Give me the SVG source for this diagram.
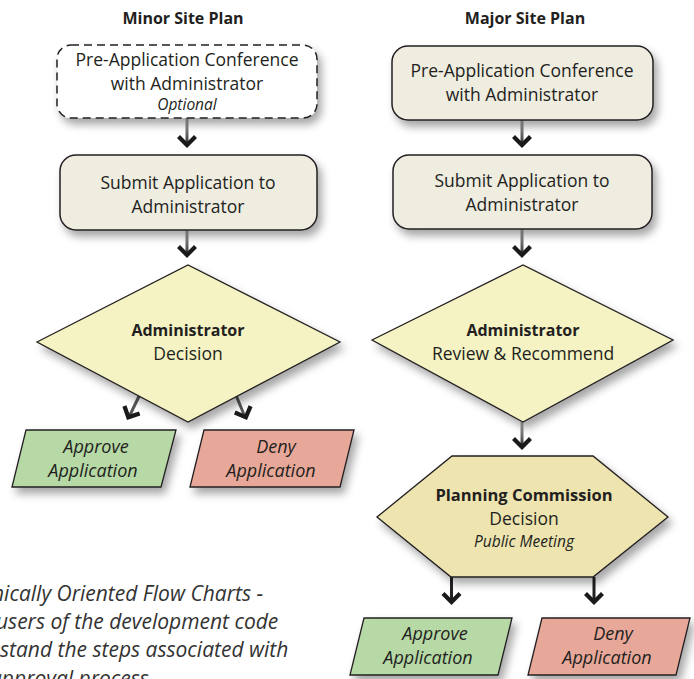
<svg xmlns="http://www.w3.org/2000/svg" width="694" height="679" viewBox="0 0 694 679">
<defs>
<filter id="sh" x="-20%" y="-20%" width="150%" height="160%">
<feDropShadow dx="4" dy="6" stdDeviation="4" flood-color="#000" flood-opacity="0.35"/>
</filter>
<linearGradient id="shaft" x1="0" y1="0" x2="0" y2="1">
<stop offset="0" stop-color="#b0b0b0"/>
<stop offset="1" stop-color="#2a2a2a"/>
</linearGradient>
<path id="ah" d="M0,0 L-10,-10 L-7,-13 L0,-6 L7,-13 L10,-10 Z" fill="#1a1a1a"/>
</defs>
<style>
text{font-family:"Open Sans","Liberation Sans",sans-serif;fill:#231f20;text-anchor:middle}
.t{font-size:17.5px}
.b{font-size:16px;font-weight:bold}
.bb{font-size:16.5px;font-weight:bold}
.h{font-size:16px;font-weight:bold}
.i{font-size:18px;font-style:italic}
.s{font-size:15.5px;font-style:italic}
.box{fill:#efece0;stroke:#231f20;stroke-width:1.5;filter:url(#sh)}
.dash{fill:#fff;stroke:#231f20;stroke-width:1.5;stroke-dasharray:8 5;filter:url(#sh)}
.dia{fill:#f5f3c3;stroke:#231f20;stroke-width:1.3;filter:url(#sh)}
.hex{fill:#ede4af;stroke:#231f20;stroke-width:1.3;filter:url(#sh)}
.ok{fill:#b6d9a6;stroke:#231f20;stroke-width:1.3;filter:url(#sh)}
.no{fill:#e8a899;stroke:#231f20;stroke-width:1.3;filter:url(#sh)}
.note{font-size:21px;font-style:italic;text-anchor:start;fill:#333}
</style>
<rect width="694" height="679" fill="#fff"/>

<g id="titles">
<text class="h" x="183" y="24">Minor Site Plan</text>
<text class="h" x="525" y="24">Major Site Plan</text>
</g>

<g id="connectors">
<rect x="185.5" y="118" width="3" height="28" fill="url(#shaft)"/>
<use href="#ah" transform="translate(187,148)"/>
<rect x="185.5" y="230" width="3" height="26" fill="url(#shaft)"/>
<use href="#ah" transform="translate(187,258)"/>
<path d="M143,388 L129,417" stroke="#555" stroke-width="3"/>
<use href="#ah" transform="translate(127,420) rotate(26)"/>
<path d="M233,388 L245,417" stroke="#555" stroke-width="3"/>
<use href="#ah" transform="translate(247,420) rotate(-22)"/>
<rect x="520.5" y="120" width="3" height="26" fill="url(#shaft)"/>
<use href="#ah" transform="translate(522,148)"/>
<rect x="520.5" y="229" width="3" height="27" fill="url(#shaft)"/>
<use href="#ah" transform="translate(522,258)"/>
<rect x="520.5" y="422" width="3" height="26" fill="url(#shaft)"/>
<use href="#ah" transform="translate(522,450)"/>
<rect x="450" y="577" width="3" height="26" fill="#222"/>
<use href="#ah" transform="translate(451.5,605)"/>
<rect x="592.5" y="577" width="3" height="26" fill="#222"/>
<use href="#ah" transform="translate(594,605)"/>
</g>

<g id="minor-preapp">
<rect class="dash" x="57" y="45" width="260" height="73" rx="14"/>
<text class="t" x="187" y="66">Pre-Application Conference</text>
<text class="t" x="187" y="90">with Administrator</text>
<text class="s" x="187" y="110">Optional</text>
</g>

<g id="minor-submit">
<rect class="box" x="60" y="155" width="257" height="75" rx="16"/>
<text class="t" x="188" y="189">Submit Application to</text>
<text class="t" x="188" y="213">Administrator</text>
</g>

<g id="minor-decision">
<polygon class="dia" points="37,342 188,265 340,342 188,422"/>
<text class="b" x="188" y="336">Administrator</text>
<text class="t" x="188" y="360">Decision</text>
</g>

<g id="minor-approve">
<polygon class="ok" points="26,430 176,430 161,487 12,487"/>
<text class="i" x="96" y="453">Approve</text>
<text class="i" x="93" y="477">Application</text>
</g>

<g id="minor-deny">
<polygon class="no" points="204,430 354,430 340,487 190,487"/>
<text class="i" x="276" y="453">Deny</text>
<text class="i" x="271" y="477">Application</text>
</g>

<g id="major-preapp">
<rect class="box" x="392" y="46" width="261" height="74" rx="16"/>
<text class="t" x="522" y="77">Pre-Application Conference</text>
<text class="t" x="522" y="101">with Administrator</text>
</g>

<g id="major-submit">
<rect class="box" x="393" y="155" width="259" height="74" rx="16"/>
<text class="t" x="522" y="187">Submit Application to</text>
<text class="t" x="522" y="211">Administrator</text>
</g>

<g id="major-review">
<polygon class="dia" points="372,340 523,265 673,340 523,422"/>
<text class="b" x="523" y="336">Administrator</text>
<text class="t" x="523" y="360">Review &amp; Recommend</text>
</g>

<g id="major-commission">
<polygon class="hex" points="452,456 593,456 668,517 593,577 451,577 377,517"/>
<text class="bb" x="524" y="501">Planning Commission</text>
<text class="t" x="524" y="525">Decision</text>
<text class="s" x="524" y="547">Public Meeting</text>
</g>

<g id="major-approve">
<polygon class="ok" points="364,618 512,618 498,675 350,675"/>
<text class="i" x="435" y="640">Approve</text>
<text class="i" x="428" y="664">Application</text>
</g>

<g id="major-deny">
<polygon class="no" points="542,618 690,618 676,675 528,675"/>
<text class="i" x="613" y="640">Deny</text>
<text class="i" x="607" y="664">Application</text>
</g>

<g id="note">
<text class="note" x="-8" y="601">hically Oriented Flow Charts -</text>
<text class="note" x="-4" y="629">users of the development code</text>
<text class="note" x="0" y="657">stand the steps associated with</text>
<text class="note" x="-10" y="686">approval process</text>
</g>
</svg>
